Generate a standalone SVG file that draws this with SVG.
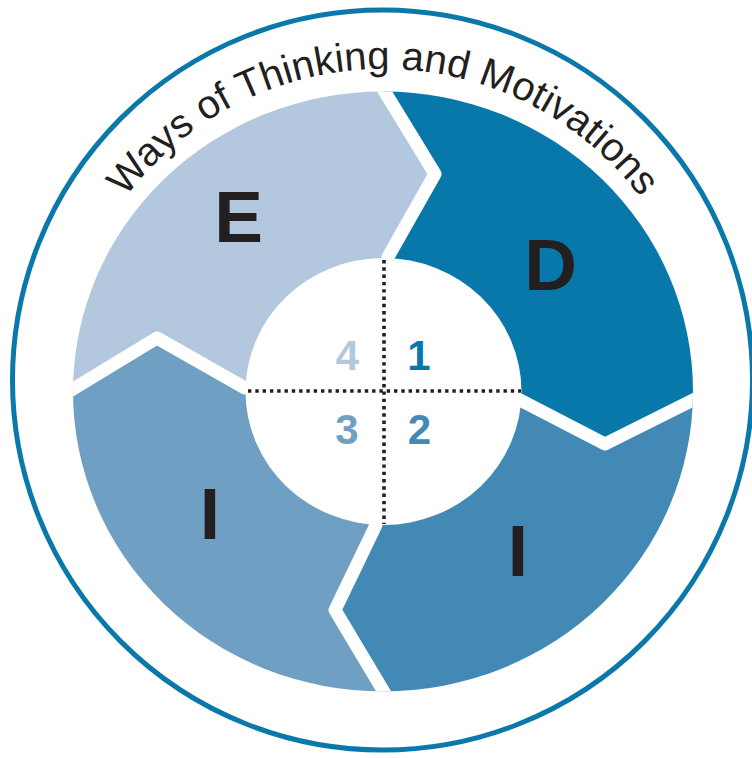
<svg xmlns="http://www.w3.org/2000/svg" width="752" height="758" viewBox="0 0 752 758">
  <defs>
    <style>
      .big { font-family: "Liberation Sans", Arial, Helvetica, sans-serif; font-weight: bold; font-size: 73px; fill: #231f20; text-anchor: middle; }
      .num { font-family: "Liberation Sans", Arial, Helvetica, sans-serif; font-weight: bold; font-size: 42px; text-anchor: middle; }
      .title { font-family: "Liberation Sans", Arial, Helvetica, sans-serif; font-size: 40px; fill: #231f20; }
      .divider { fill: none; stroke: #ffffff; stroke-width: 13; stroke-linejoin: round; }
      .dots { fill: none; stroke: #231f20; stroke-width: 3.6; stroke-dasharray: 3.4 3.9; }
    </style>
    <clipPath id="ring">
      <ellipse cx="383" cy="391.5" rx="310" ry="300"/>
    </clipPath>
    <path id="titleArc" d="M80.4,280.9 A322,322 0 0,1 685.6,280.9"/>
  </defs>

  <rect width="752" height="758" fill="#ffffff"/>

  <!-- outer ring line -->
  <circle cx="382.5" cy="380" r="370" fill="none" stroke="#0b78aa" stroke-width="5"/>

  <!-- title along the top arc -->
  <text class="title"><textPath href="#titleArc" startOffset="50%" text-anchor="middle">Ways of Thinking and Motivations</textPath></text>

  <!-- four quadrant segments -->
  <g clip-path="url(#ring)">
    <g id="seg-D">
      <polygon fill="#0878ab" points="383,391 388,257 435,174 385,92 364,58 364,-50 800,-50 800,382 729,382 693,400 605,444 520,400"/>
    </g>
    <g id="seg-I-right">
      <polygon fill="#4389b5" points="383,391 520,400 605,444 693,400 729,382 800,382 800,800 404,800 404,726 384,692 335,610 376,525"/>
    </g>
    <g id="seg-I-left">
      <polygon fill="#6fa0c4" points="383,391 376,525 335,610 384,692 404,726 404,800 -50,800 -50,410 39,410 73,389 157,338 245,388"/>
    </g>
    <g id="seg-E">
      <polygon fill="#b3c7de" points="383,391 245,388 157,338 73,389 39,410 -50,410 -50,-50 364,-50 364,58 385,92 435,174 388,257"/>
    </g>
    <g id="dividers">
      <polyline class="divider" points="364,58 385,92 435,174 388,257 384,300"/>
      <polyline class="divider" points="729,382 693,400 605,444 520,400 480,398"/>
      <polyline class="divider" points="404,726 384,692 335,610 376,525 380,490"/>
      <polyline class="divider" points="39,410 73,389 157,338 245,388 290,390"/>
    </g>
  </g>

  <!-- segment letters -->
  <text class="big" x="238.5" y="242">E</text>
  <text class="big" x="550.5" y="290">D</text>
  <text class="big" x="210" y="539">I</text>
  <text class="big" x="518" y="576">I</text>

  <!-- central hub with quadrant numbers -->
  <g id="hub">
    <ellipse cx="383.5" cy="391.5" rx="138" ry="133.5" fill="#ffffff"/>
    <line class="dots" x1="384" y1="260" x2="384" y2="524"/>
    <line class="dots" x1="248" y1="391" x2="521" y2="391"/>
    <text class="num" x="347.5" y="370" fill="#b3c7de">4</text>
    <text class="num" x="419" y="370" fill="#0878ab">1</text>
    <text class="num" x="347" y="444" fill="#6fa0c4">3</text>
    <text class="num" x="419.5" y="444" fill="#4389b5">2</text>
  </g>
</svg>
